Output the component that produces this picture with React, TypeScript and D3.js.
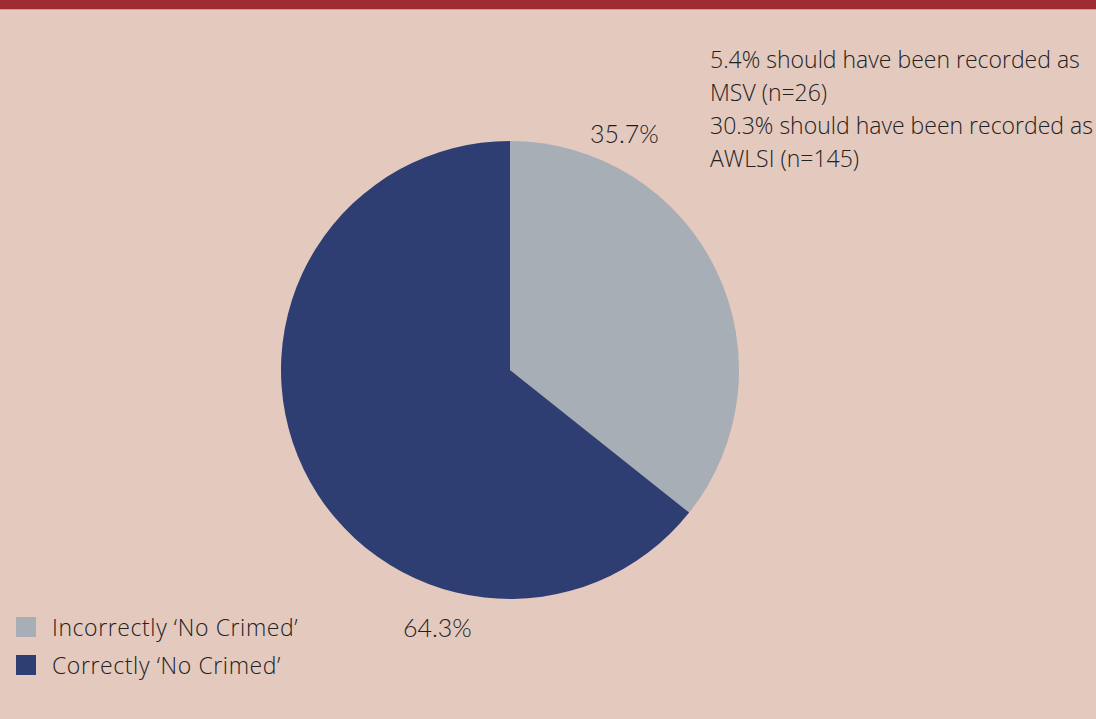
import React from "react";
import * as d3 from "d3";

const categories = ["Incorrectly \u2018No Crimed\u2019", "Correctly \u2018No Crimed\u2019"];
const values = [35.7, 64.3];
const colors = ["#A7AEB6", "#2E3E73"];
const sliceLabels = ["35.7%", "64.3%"];
const noteLines = [
  "5.4% should have been recorded as",
  "MSV (n=26)",
  "30.3% should have been recorded as",
  "AWLSI (n=145)",
];

export default function App() {
  const W = 1096, H = 719;
  const cx = 510, cy = 370, r = 229;
  const pie = d3.pie<number>().sort(null).value((d) => d);
  const arcs = pie(values);
  const arc = d3.arc<d3.PieArcDatum<number>>().innerRadius(0).outerRadius(r);
  const font = "Lato, 'Open Sans', sans-serif";
  const font2 = "'Open Sans', Lato, sans-serif";
  return (
    <svg width={W} height={H} style={{ position: "absolute", left: 0, top: 0 }}>
      <rect x={0} y={0} width={W} height={H} fill="#E4C9BE" />
      <rect x={0} y={0} width={W} height={9} fill="#9E2B31" />
      <rect x={0} y={9} width={W} height={1} fill="#D59A95" />
      <g transform={`translate(${cx},${cy})`}>
        {arcs.map((a, i) => (
          <path key={i} d={arc(a) || ""} fill={colors[i]} />
        ))}
      </g>
      <text x={590} y={143} fontFamily={font} fontWeight={300} fontSize={25} fill="#1e1e1e">{sliceLabels[0]}</text>
      <text x={403} y={637} fontFamily={font} fontWeight={300} fontSize={25} fill="#1e1e1e">{sliceLabels[1]}</text>
      {noteLines.map((t, i) => (
        <text key={i} x={710} y={68 + i * 33} fontFamily={font2} fontWeight={300} fontSize={23} fill="#222">{t}</text>
      ))}
      {categories.map((c, i) => (
        <g key={i}>
          <rect x={16} y={617 + i * 38} width={20} height={20} fill={colors[i]} />
          <text x={52} y={636 + i * 38} fontFamily={font2} fontWeight={300} fontSize={23} letterSpacing={0.6} fill="#222">{c}</text>
        </g>
      ))}
    </svg>
  );
}
